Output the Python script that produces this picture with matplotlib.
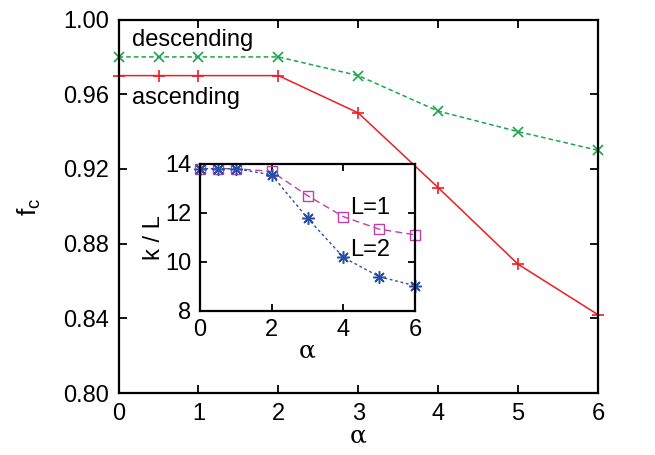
import numpy as np
import matplotlib.pyplot as plt

plt.rcParams['font.family'] = ['Liberation Sans', 'DejaVu Sans']

# main panel data
alpha = [0, 0.5, 1, 2, 3, 4, 5, 6]
fc_desc = [0.980, 0.980, 0.980, 0.980, 0.970, 0.951, 0.940, 0.930]
fc_asc = [0.970, 0.970, 0.970, 0.970, 0.950, 0.910, 0.869, 0.842]

# inset data
kL_1 = [13.8, 13.8, 13.8, 13.69, 12.70, 11.84, 11.33, 11.10]
kL_2 = [13.8, 13.8, 13.8, 13.55, 11.78, 10.18, 9.39, 9.02]

fig = plt.figure(figsize=(6.55, 4.55), dpi=100)
ax = fig.add_axes([0.181, 0.136, 0.732, 0.821])

ax.plot(alpha, fc_asc, color='#f01c24', lw=1.1, marker='+', ms=8, mew=1.2, clip_on=False)
ax.plot(alpha, fc_desc, color='#1aa64a', lw=1.1, ls=(0, (3, 2)), marker='x', ms=7, mew=1.2, clip_on=False)

ax.set_xlim(0, 6)
ax.set_ylim(0.80, 1.00)
ax.set_xticks(range(7))
ax.set_yticks(np.arange(0.80, 1.001, 0.04))
ax.set_yticklabels(['%.2f' % v for v in np.arange(0.80, 1.001, 0.04)])
ax.tick_params(direction='in', top=True, right=True, labelsize=17, length=6, width=1.3, pad=7)
for s in ax.spines.values():
    s.set_linewidth(1.6)
ax.set_xlabel('α', fontsize=18, family='DejaVu Serif', labelpad=0)
ax.set_ylabel('f$_\\mathregular{c}$', fontsize=19, labelpad=14)

ax.text(0.17, 0.989, 'descending', fontsize=17, va='center')
ax.text(0.17, 0.958, 'ascending', fontsize=17, va='center')

# inset
ins = fig.add_axes([0.305, 0.317, 0.329, 0.323])
ins.plot(alpha, kL_1, color='#c040a8', lw=1.0, ls=(0, (5, 3)), marker='s', ms=7, mfc='none', mew=1.0, clip_on=False)
ins.plot(alpha, kL_2, color='#2850a8', lw=1.0, ls=(0, (2, 2)), marker=(8, 2, 0), ms=9, mew=1.1, clip_on=False)
ins.set_xlim(0, 6)
ins.set_ylim(8, 14)
ins.set_xticks([0, 2, 4, 6])
ins.set_yticks([8, 10, 12, 14])
ins.tick_params(direction='in', top=True, right=True, labelsize=17, length=5, width=1.3, pad=6)
for s in ins.spines.values():
    s.set_linewidth(1.6)
ins.set_xlabel('α', fontsize=18, family='DejaVu Serif', labelpad=-1)
ins.set_ylabel('k / L', fontsize=17, labelpad=0)
ins.text(4.2, 12.2, 'L=1', fontsize=17, va='center')
ins.text(4.2, 10.5, 'L=2', fontsize=17, va='center')

fig.savefig('out.png', dpi=100)
